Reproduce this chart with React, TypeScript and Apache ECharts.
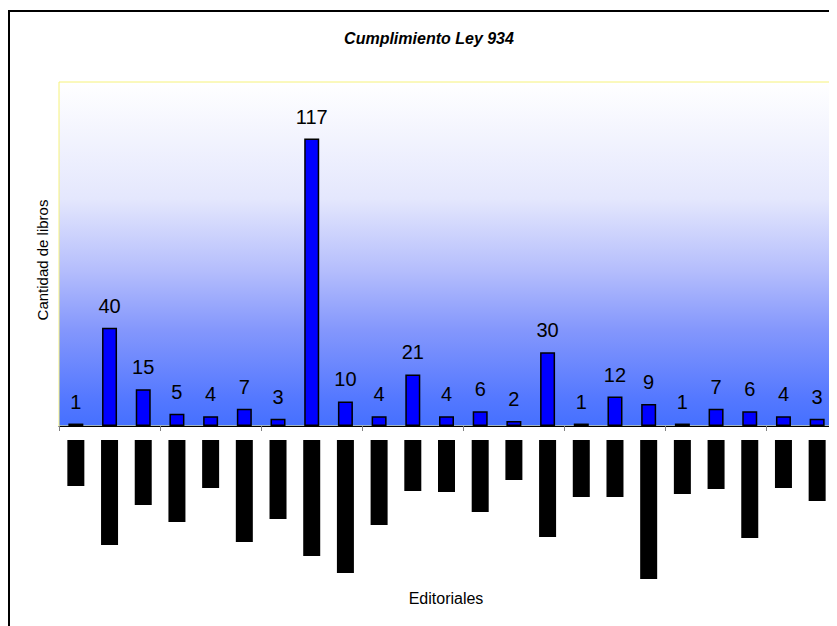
import React, { useEffect, useRef } from "react";
import * as echarts from "echarts";

const categories = [
  "Editorial 1", "Editorial 2", "Editorial 3", "Editorial 4", "Editorial 5",
  "Editorial 6", "Editorial 7", "Editorial 8", "Editorial 9", "Editorial 10",
  "Editorial 11", "Editorial 12", "Editorial 13", "Editorial 14", "Editorial 15",
  "Editorial 16", "Editorial 17", "Editorial 18", "Editorial 19", "Editorial 20",
  "Editorial 21", "Editorial 22", "Editorial 23",
];

const bookCounts = [1, 40, 15, 5, 4, 7, 3, 117, 10, 4, 21, 4, 6, 2, 30, 1, 12, 9, 1, 7, 6, 4, 3];

// lengths of the (illegible, blacked-out) category label blocks under the axis
const labelBlockLengths = [46, 105, 65, 82, 48, 102, 79, 116, 133, 85, 51, 52, 72, 40, 97, 57, 57, 139, 54, 49, 98, 48, 61];

const titleText = "Cumplimiento Ley 934";
const yAxisTitle = "Cantidad de libros";
const xAxisTitle = "Editoriales";

const FONT = 'Arial, "Liberation Sans", sans-serif';

export default function App() {
  const ref = useRef<HTMLDivElement>(null);

  useEffect(() => {
    if (!ref.current) return;
    const chart = echarts.init(ref.current, undefined, { renderer: "svg" });
    chart.setOption({
      animation: false,
      backgroundColor: "#ffffff",
      graphic: [
        {
          type: "rect",
          shape: { x: 1, y: 3, width: 900, height: 700 },
          style: { fill: "none", stroke: "#000", lineWidth: 2 },
          silent: true,
        },
        {
          type: "text",
          x: 421,
          y: 30,
          style: {
            text: titleText,
            fontFamily: FONT,
            fontSize: 16,
            fontWeight: "bold",
            fontStyle: "italic",
            fill: "#000",
            textAlign: "center",
            textVerticalAlign: "middle",
          },
        },
        {
          type: "text",
          x: 438,
          y: 590,
          style: {
            text: xAxisTitle,
            fontFamily: FONT,
            fontSize: 16,
            fill: "#000",
            textAlign: "center",
            textVerticalAlign: "middle",
          },
        },
      ],
      grid: [
        {
          left: 51,
          top: 74,
          width: 775,
          height: 344,
          show: true,
          borderColor: "#f6f27a",
          borderWidth: 1,
          backgroundColor: {
            type: "linear",
            x: 0, y: 0, x2: 0, y2: 1,
            colorStops: [
              { offset: 0, color: "#ffffff" },
              { offset: 0.34, color: "#e4e7fd" },
              { offset: 0.55, color: "#b4bdfc" },
              { offset: 0.72, color: "#8497fc" },
              { offset: 0.92, color: "#5478ff" },
              { offset: 1, color: "#4570ff" },
            ],
          },
        },
        { left: 51, top: 432, width: 775, height: 150 },
      ],
      xAxis: [
        {
          gridIndex: 0,
          type: "category",
          data: categories,
          axisLine: { show: true, lineStyle: { color: "#000", width: 1 } },
          axisTick: { show: true, length: 5, lineStyle: { color: "#808080", width: 1 } },
          axisLabel: { show: false },
        },
        {
          gridIndex: 1,
          type: "category",
          data: categories,
          show: false,
        },
      ],
      yAxis: [
        {
          gridIndex: 0,
          type: "value",
          min: 0,
          max: 140,
          interval: 20,
          axisLine: { show: false },
          axisTick: { show: false },
          axisLabel: { show: false },
          splitLine: { show: false },
          name: yAxisTitle,
          nameLocation: "middle",
          nameGap: 9,
          nameRotate: 90,
          nameTextStyle: { fontFamily: FONT, fontSize: 15, color: "#000", padding: [0, 12, 0, 0] },
        },
        {
          gridIndex: 1,
          type: "value",
          min: 0,
          max: 150,
          inverse: true,
          show: false,
        },
      ],
      series: [
        {
          name: yAxisTitle,
          type: "bar",
          xAxisIndex: 0,
          yAxisIndex: 0,
          data: bookCounts,
          barWidth: 15,
          itemStyle: { color: "#0000ff", borderColor: "#000", borderWidth: 1.5 },
          label: {
            show: true,
            position: "top",
            distance: 12,
            fontFamily: FONT,
            fontSize: 20,
            color: "#000",
          },
        },
        {
          name: "labels",
          type: "bar",
          xAxisIndex: 1,
          yAxisIndex: 1,
          data: labelBlockLengths,
          barWidth: 17,
          itemStyle: { color: "#000" },
          silent: true,
        },
      ],
    });
    return () => chart.dispose();
  }, []);

  return <div ref={ref} style={{ width: 829, height: 618 }} />;
}
